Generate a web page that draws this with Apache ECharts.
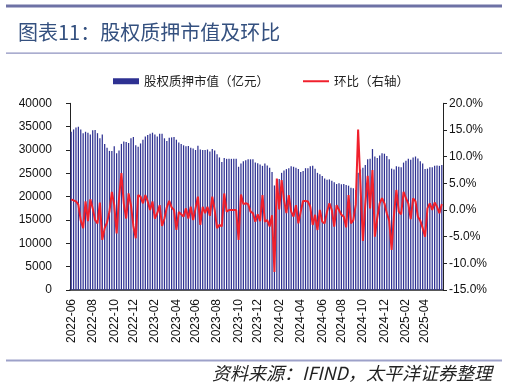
<!DOCTYPE html>
<html>
<head>
<meta charset="utf-8">
<script src="https://cdn.jsdelivr.net/npm/echarts@6/dist/echarts.min.js"></script>
<style>
html,body{margin:0;padding:0;background:#fff;}
#chart{width:507px;height:387px;}
</style>
</head>
<body>
<div id="chart"></div>
<script>
// Weekly dates (categories)
var dates = [
"2022-06-03","2022-06-10","2022-06-17","2022-06-24","2022-07-01","2022-07-08","2022-07-15","2022-07-22","2022-07-29","2022-08-05","2022-08-12","2022-08-19","2022-08-26","2022-09-02","2022-09-09","2022-09-16","2022-09-23","2022-09-30","2022-10-07","2022-10-14","2022-10-21","2022-10-28","2022-11-04","2022-11-11","2022-11-18","2022-11-25","2022-12-02","2022-12-09","2022-12-16","2022-12-23","2022-12-30",
"2023-01-06","2023-01-13","2023-01-20","2023-01-27","2023-02-03","2023-02-10","2023-02-17","2023-02-24","2023-03-03","2023-03-10","2023-03-17","2023-03-24","2023-03-31","2023-04-07","2023-04-14","2023-04-21","2023-04-28","2023-05-05","2023-05-12","2023-05-19","2023-05-26","2023-06-02","2023-06-09","2023-06-16","2023-06-23","2023-06-30","2023-07-07","2023-07-14","2023-07-21","2023-07-28","2023-08-04","2023-08-11","2023-08-18","2023-08-25","2023-09-01","2023-09-08","2023-09-15","2023-09-22","2023-09-29","2023-10-06","2023-10-13","2023-10-20","2023-10-27","2023-11-03","2023-11-10","2023-11-17","2023-11-24","2023-12-01","2023-12-08","2023-12-15","2023-12-22","2023-12-29",
"2024-01-05","2024-01-12","2024-01-19","2024-01-26","2024-02-02","2024-02-09","2024-02-16","2024-02-23","2024-03-01","2024-03-08","2024-03-15","2024-03-22","2024-03-29","2024-04-05","2024-04-12","2024-04-19","2024-04-26","2024-05-03","2024-05-10","2024-05-17","2024-05-24","2024-05-31","2024-06-07","2024-06-14","2024-06-21","2024-06-28","2024-07-05","2024-07-12","2024-07-19","2024-07-26","2024-08-02","2024-08-09","2024-08-16","2024-08-23","2024-08-30","2024-09-06","2024-09-13","2024-09-20","2024-09-27","2024-10-04","2024-10-11","2024-10-18","2024-10-25","2024-11-01","2024-11-08","2024-11-15","2024-11-22","2024-11-29","2024-12-06","2024-12-13","2024-12-20","2024-12-27",
"2025-01-03","2025-01-10","2025-01-17","2025-01-24","2025-01-31","2025-02-07","2025-02-14","2025-02-21","2025-02-28","2025-03-07","2025-03-14","2025-03-21","2025-03-28","2025-04-04","2025-04-11","2025-04-18","2025-04-25","2025-05-02","2025-05-09","2025-05-16","2025-05-23"
];

// 股权质押市值（亿元）
var pledgeValue = [
33900,34400,34800,35000,34400,33600,33900,33700,33300,34200,34300,33600,32500,33300,31300,30500,29800,29800,30800,29300,
29900,31300,31800,31700,31500,32500,32800,31000,30700,31400,32200,32900,33200,33500,33700,33300,32900,33500,33500,32500,
31900,32600,32700,32800,32200,31600,31300,31000,30800,30850,30500,30300,30000,30900,30100,30000,30000,30100,29700,30200,
29900,29100,28400,27400,28300,28100,28100,28100,28100,28100,26400,27100,27600,27800,28000,28000,28000,27300,27150,26900,
26600,27100,26700,26200,25300,22400,23700,23800,25100,25600,25900,26100,26500,26400,26200,25900,25300,25500,26100,26100,
26500,26640,26000,25100,24780,24400,23900,23600,23700,23400,23100,22700,22850,22650,22700,22500,22350,21900,21800,21400,
25100,25800,26200,26800,28000,28100,30200,28600,28300,28800,29300,29200,28700,28000,26000,25800,26500,26400,26300,27300,
27700,28100,27900,28400,28600,28200,27600,27100,25900,26000,26300,26300,26600,26700,26600,26800
];

// 环比（右轴, %）
var wowChange = [
2.0,1.8,1.6,1.0,-2.0,-3.4,1.6,-2.1,2.0,0.3,-1.9,-2.5,1.4,-5.6,-3.4,-2.3,-0.3,3.4,0.9,-4.4,
2.2,6.9,1.2,-1.6,3.1,0.9,-3.0,-5.3,2.8,2.5,1.25,2.8,1.6,0,1.6,-1.6,-0.6,0.9,-3.0,-1.6,
0.5,1.7,0.5,0.0,-3.75,-0.4,-0.8,-1.25,0.3,-1.6,0.6,-1.9,0.3,2.5,-2.8,0.6,-0.6,0.6,-1.1,2.5,
0.0,-3.4,-2.8,-3.1,3.1,-0.3,0,0,0,0,-5.6,2.9,1.1,1.25,1.1,-0.3,-0.6,-2.2,-0.8,-2.1,
2.8,-2.2,-1.9,-3.1,-1.0,-11.6,5.9,0.1,5.6,1.9,-0.6,2.8,-0.3,-1.25,0.9,-2.5,-0.3,1.7,1.7,1.6,
0.6,-2.8,-0.9,-3.75,0,-2.2,-2.5,-0.3,1.25,0,-3.1,0.9,0,-0.9,-1.25,-3.25,2.8,-2.5,-1.9,1.0,
15.1,4.5,-5.8,1.0,6.4,0.3,7.5,-5.0,-1.5,1.25,2.2,1.25,-0.6,-2.0,-7.5,-0.9,3.75,-0.3,-0.8,3.4,
2.2,1.2,-1.7,2.2,1.6,-1.25,-2.0,-3.4,-5.0,0.3,1.25,0,1.4,0.6,-0.6,1.1
];

var leftTicks = {min: 0, max: 40000, interval: 5000};
var rightTicks = {min: -15, max: 20, interval: 5};

var seriesNames = ['股权质押市值（亿元）', '环比（右轴）'];
var titleText = '图表11：股权质押市值及环比';
var sourceText = '资料来源：IFIND，太平洋证券整理';

var chart = echarts.init(document.getElementById('chart'), null, {renderer: 'canvas'});
var numFont = 'Liberation Sans, Arial, sans-serif';
var cjkFont = '"Noto Sans CJK SC", sans-serif';
var legendText = {fontSize: 12.5, color: '#222', fontFamily: cjkFont};

var option = {
  animation: false,
  backgroundColor: '#ffffff',
  grid: {left: 70, right: 64, top: 103.3, bottom: 97, containLabel: false},
  legend: [
    {
      data: [{name: seriesNames[0], icon: 'rect'}],
      left: 108, top: 70,
      itemWidth: 26, itemHeight: 6,
      textStyle: legendText
    },
    {
      data: [{name: seriesNames[1], icon: 'rect'}],
      left: 298, top: 70,
      itemWidth: 26, itemHeight: 2,
      textStyle: legendText
    }
  ],
  xAxis: {
    type: 'category',
    data: dates,
    boundaryGap: true,
    axisLine: {show: true, lineStyle: {color: '#222', width: 1.5}},
    axisTick: {show: false},
    axisLabel: {
      rotate: 90, margin: 9, fontSize: 12, color: '#111', fontFamily: numFont,
      interval: function (idx, val) {
        var m = parseInt(val.substr(5, 2), 10);
        var d = parseInt(val.substr(8, 2), 10);
        return (m % 2 === 0) && d <= 7;
      },
      formatter: function (val) { return val.substr(0, 7); }
    },
    splitLine: {show: false}
  },
  yAxis: [
    {
      type: 'value', position: 'left',
      min: leftTicks.min, max: leftTicks.max, interval: leftTicks.interval,
      axisLine: {show: true, lineStyle: {color: '#222', width: 1}},
      axisTick: {show: true, inside: false, length: 4, lineStyle: {color: '#222'}},
      axisLabel: {margin: 18, fontSize: 12, color: '#111', fontFamily: numFont,
        formatter: function (v) { return String(v); }},
      splitLine: {show: false}
    },
    {
      type: 'value', position: 'right',
      min: rightTicks.min, max: rightTicks.max, interval: rightTicks.interval,
      axisLine: {show: true, lineStyle: {color: '#222', width: 1}},
      axisTick: {show: true, inside: false, length: 4, lineStyle: {color: '#222'}},
      axisLabel: {
        margin: 6, fontSize: 12, color: '#111', fontFamily: numFont,
        formatter: function (v) { return v.toFixed(1) + '%'; }
      },
      splitLine: {show: false}
    }
  ],
  series: [
    {
      name: seriesNames[0], type: 'bar', yAxisIndex: 0,
      data: pledgeValue,
      barWidth: '52%',
      itemStyle: {color: '#2e3192'}
    },
    {
      name: seriesNames[1], type: 'line', yAxisIndex: 1,
      data: wowChange,
      symbol: 'none', smooth: false,
      lineStyle: {color: '#f0202c', width: 2},
      itemStyle: {color: '#f0202c'},
      z: 5
    }
  ],
  graphic: [
    {type: 'rect', shape: {x: 6, y: 4.5, width: 496, height: 3}, style: {fill: '#6e72a5'}},
    {type: 'text', x: 18, y: 32, style: {text: titleText, fontSize: 20, fontFamily: cjkFont, fill: '#34507f', align: 'left', verticalAlign: 'middle'}},
    {type: 'rect', shape: {x: 6, y: 52.5, width: 496, height: 1.2}, style: {fill: '#8e92bf'}},
    {type: 'rect', shape: {x: 6, y: 359.5, width: 496, height: 2}, style: {fill: '#9da1c9'}},
    {type: 'text', x: 492, y: 373, style: {text: sourceText, fontSize: 18, fontStyle: 'italic', fontFamily: cjkFont, fill: '#222', align: 'right', verticalAlign: 'middle'}}
  ]
};
chart.setOption(option);
</script>
</body>
</html>
